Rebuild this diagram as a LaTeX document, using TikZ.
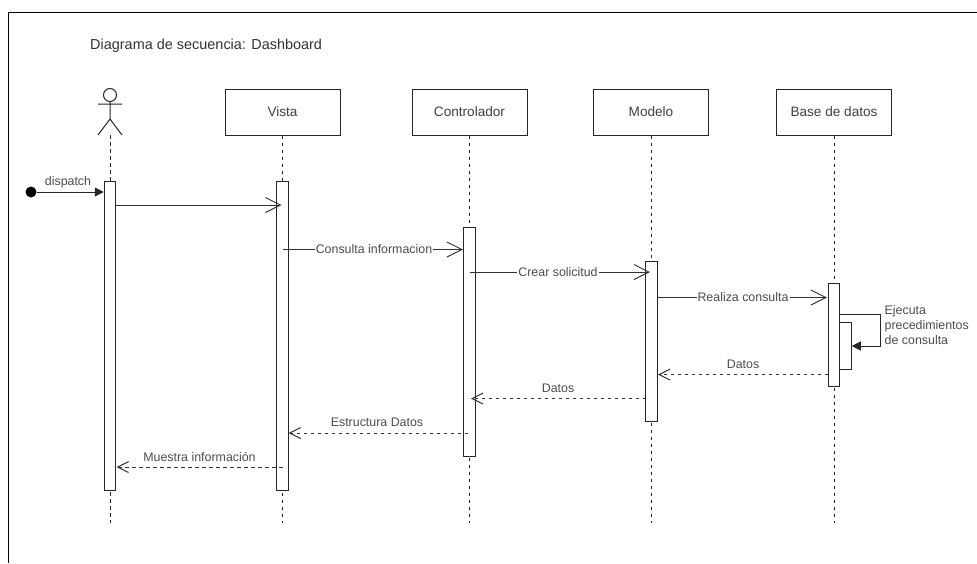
\documentclass[tikz,border=0pt]{standalone}
\usepackage{fontspec}
\setmainfont{Liberation Sans}
\usetikzlibrary{positioning, calc, arrows.meta}

\begin{document}
\begin{tikzpicture}[
        x=1pt, y=-1pt,
        obj/.style={draw=black!85, minimum width=115pt, minimum height=46pt,
                    font=\fontsize{13.6}{15}\selectfont, text=black!75, inner sep=0pt, line width=1pt},
        act/.style={draw=black!85, fill=white, minimum width=11.5pt, inner sep=0pt, line width=1pt},
        life/.style={black!85, line width=0.9pt, dash pattern=on 3.5pt off 3.5pt},
        msg/.style={-{Triangle[length=9pt, width=9pt]}, black!85, line width=1pt},
        sync/.style={-{Straight Barb[length=15pt, width=15pt, line width=1pt]}, black!80, line width=1pt},
        ret/.style={-{Straight Barb[length=11pt, width=11pt, line width=1pt]}, black!80, line width=1pt, dash pattern=on 3.5pt off 3.5pt},
        lbl/.style={font=\fontsize{12.4}{15}\selectfont, text=black!70, inner sep=1pt},
        lblw/.style={lbl, fill=white},
    ]
    \useasboundingbox (0,0) rectangle (977,563);
    % Outer frame
    \draw[line width=1pt] (8.5,563) -- (8.5,12.5) -- (977,12.5);
    \node[lbl, anchor=west, inner sep=0pt, text=black!80, font=\fontsize{14.45}{16}\selectfont] (title) at (90,46) {Diagrama de secuencia: Dashboard};

    % Objects
    \node[obj] (vista) at (282.5,112) {Vista};
    \node[obj] (ctrl) at (469.5,112) {Controlador};
    \node[obj] (modelo) at (651,112) {Modelo};
    \node[obj] (bd) at (834,112) {Base de datos};

    % Actor
    \node[draw=black!85, circle, minimum size=13pt, inner sep=0pt, line width=1pt] (head) at (110,95) {};
    \coordinate (hip) at (110,119);
    \coordinate (actorfoot) at (110,135);
    \draw[black!85, line width=1pt] (head.south) -- (hip) -- (98,135) (hip) -- (122,135) (98,104) -- (122,104);

    % Lifelines
    \coordinate (end0) at (110,523);
    \coordinate (end1) at (282.5,523);
    \coordinate (end2) at (469.5,523);
    \coordinate (end3) at (651,523);
    \coordinate (end4) at (834,523);
    \draw[life] (actorfoot) -- (end0);
    \foreach \src/\dst in {vista/end1, ctrl/end2, modelo/end3, bd/end4} {
        \draw[life] (\src.south) -- (\dst);
    }

    % Activations
    \node[act, minimum height=309pt] (a0) at (110,335.5) {};
    \node[act, minimum height=309pt] (a1) at (282.5,335.5) {};
    \node[act, minimum height=229pt] (a2) at (469.5,341.5) {};
    \node[act, minimum height=160.5pt] (a3) at (651.5,341.25) {};
    \node[act, minimum height=103pt] (a4) at (834,334.5) {};
    \node[act, minimum height=47pt] (a5) at (845.5,345.5) {};

    % Messages
    \node[circle, fill=black, minimum size=11pt, inner sep=0pt] (start) at (31,192) {};
    \draw[msg] (start) -- (a0.west |- start);
    \node[lbl] (ldisp) at (68,182) {dispatch};

    \coordinate (m1a) at (a0.east |- 0,205);
    \coordinate (m1b) at (281.5,205);
    \draw[sync] (m1a) -- (m1b);

    \coordinate (m2a) at (282.5,249.5);
    \coordinate (m2b) at (463,249.5);
    \draw[sync] (m2a) -- (m2b);
    \node[lblw] (l2) at (374,249.5) {Consulta informacion};

    \coordinate (m3a) at (469.5,272);
    \coordinate (m3b) at (650,272);
    \draw[sync] (m3a) -- (m3b);
    \node[lblw] (l3) at (558,272) {Crear solicitud};

    \coordinate (m4a) at (657.5,297.5);
    \coordinate (m4b) at (827,297.5);
    \draw[sync] (m4a) -- (m4b);
    \node[lblw] (l4) at (743,297.5) {Realiza consulta};

    % Self call
    \coordinate (s1) at (840,314.5);
    \coordinate (s2) at (880,314.5);
    \coordinate (s3) at (880,346);
    \draw[msg] (s1) -- (s2) -- (s3) -- (a5.east |- s3);
    \node[lbl, anchor=west, align=left] (l5) at (883.5,325) {Ejecuta\\precedimientos\\de consulta};

    % Returns
    \coordinate (r1a) at (828,374.5);
    \coordinate (r1b) at (658,374.5);
    \draw[ret] (r1a) -- (r1b);
    \node[lbl] (l6) at (743,364) {Datos};

    \coordinate (r2a) at (646,398.5);
    \coordinate (r2b) at (471,398.5);
    \draw[ret] (r2a) -- (r2b);
    \node[lbl] (l7) at (558,388) {Datos};

    \coordinate (r3a) at (468,433);
    \coordinate (r3b) at (288.5,433);
    \draw[ret] (r3a) -- (r3b);
    \node[lbl] (l8) at (377,422.5) {Estructura Datos};

    \coordinate (r4a) at (282.5,467);
    \coordinate (r4b) at (116.5,467);
    \draw[ret] (r4a) -- (r4b);
    \node[lbl] (l9) at (199.5,457) {Muestra información};
\end{tikzpicture}
\end{document}
